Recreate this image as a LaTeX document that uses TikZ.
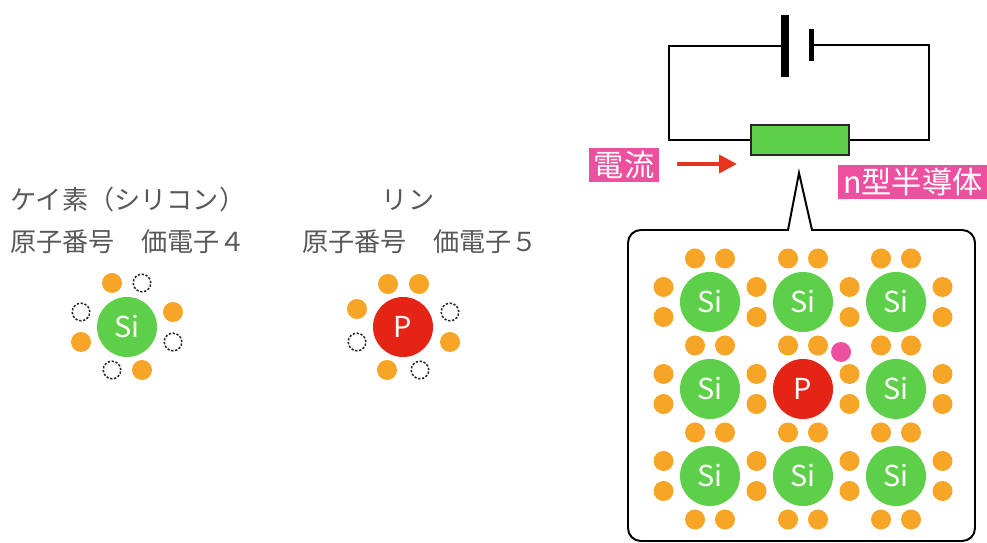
\documentclass[tikz,border=0pt]{standalone}
\usepackage{fontspec}
\setmainfont{Noto Sans CJK JP}
\usetikzlibrary{arrows.meta}

\definecolor{sigreen}{RGB}{94,207,72}
\definecolor{pred}{RGB}{228,36,20}
\definecolor{elorange}{RGB}{247,165,38}
\definecolor{tagpink}{RGB}{238,80,160}
\definecolor{txtgray}{RGB}{88,88,88}
\definecolor{arrred}{RGB}{230,52,30}

\tikzset{
  atom/.style={circle,minimum size=1.5cm,inner sep=0pt,text=white,font=\fontsize{20.5}{20.5}\selectfont},
  si/.style={atom,fill=sigreen},
  phos/.style={atom,fill=pred},
  elec/.style={circle,fill=elorange,minimum size=0.5cm,inner sep=0pt},
  hole/.style={circle,draw=black!85,dash pattern=on 1.6pt off 1.2pt,line width=1.1pt,minimum size=0.44cm,inner sep=0pt},
  free/.style={circle,fill=tagpink,minimum size=0.5cm,inner sep=0pt},
  caption/.style={text=txtgray,font=\fontsize{18.6}{22}\selectfont,inner sep=0pt},
  tag/.style={fill=tagpink,text=white,font=\fontsize{21.5}{21.5}\selectfont,inner xsep=3.5pt,inner ysep=2pt},
  wire/.style={line width=1.4pt,black},
  plate/.style={fill=black,inner sep=0pt}
}

\begin{document}
\begin{tikzpicture}[x=0.025cm,y=-0.025cm]
\useasboundingbox (0,0) rectangle (987,543);

% silicon
\node[caption,anchor=west] (sititle) at (10,200) {ケイ素（シリコン）};
\node[caption,anchor=west] (sinum) at (10,242) {原子番号　価電子４};
\node[si] (si) at (127,327) {Si};
\begin{scope}[shift={(127,327)}]
\node[elec] (s1) at (-15,-44) {};
\node[hole] (s2) at (15,-44) {};
\node[hole] (s3) at (-46,-15) {};
\node[elec] (s4) at (-46,15) {};
\node[elec] (s5) at (46,-15) {};
\node[hole] (s6) at (46,15) {};
\node[hole] (s7) at (-15,43) {};
\node[elec] (s8) at (15,43) {};
\end{scope}

% phosphorus
\node[caption] (ptitle) at (408,200) {リン};
\node[caption,anchor=west] (pnum) at (302,242) {原子番号　価電子５};
\node[phos] (p) at (403,327) {P};
\begin{scope}[shift={(403,327)}]
\node[elec] (p1) at (-15,-43) {};
\node[elec] (p2) at (16,-43) {};
\node[elec] (p3) at (-46,-18) {};
\node[hole] (p4) at (-46,15) {};
\node[hole] (p5) at (47,-15) {};
\node[elec] (p6) at (47,15) {};
\node[elec] (p7) at (-16,43) {};
\node[hole] (p8) at (17,43) {};
\end{scope}

% circuit
\node[plate,minimum width=0.2cm,minimum height=1.55cm] (bl) at (785,46) {};
\node[plate,minimum width=0.125cm,minimum height=0.78cm] (bs) at (811.5,45) {};
\node[draw=black!85,line width=1.2pt,fill=sigreen,minimum width=2.45cm,minimum height=0.75cm,inner sep=0pt] (res) at (800,140) {};
\coordinate (cl) at (669,140);
\coordinate (cr) at (929,140);
\draw[wire] (bl.west) -| (cl) -- (res.west);
\draw[wire] (bs.east) -| (cr) -- (res.east);

\node[tag] (cur) at (624,165) {電流};
\node[tag,anchor=west] (ntype) at (838,182) {n型半導体};
\coordinate (ia) at (677,164);
\coordinate (ib) at (737,164);
\draw[arrred,line width=2.8pt,-{Triangle[length=0.45cm,width=0.45cm]}] (ia) -- (ib);

% callout
\draw[line width=1.4pt,fill=white] (812,230) [rounded corners=0.32cm] -- (975,230) -- (975,541) -- (628,541) -- (628,230) [sharp corners] -- (788,230) -- (799,173) -- cycle;

% lattice
\foreach \c/\r in {0/0,1/0,2/0,0/1,2/1,0/2,1/2,2/2}
  \node[si] (a\c\r) at (710+93*\c,302+87*\r) {Si};
\node[phos] (a11) at (803,389) {P};
\foreach \k in {0,...,3}
  \foreach \r in {0,1,2} {
    \node[elec] (v\k\r a) at (663.5+93*\k,287+87*\r) {};
    \node[elec] (v\k\r b) at (663.5+93*\k,317+87*\r) {};
  }
\foreach \c in {0,1,2}
  \foreach \k in {0,...,3} {
    \node[elec] (h\c\k a) at (695+93*\c,258.5+87*\k) {};
    \node[elec] (h\c\k b) at (725+93*\c,258.5+87*\k) {};
  }
\node[free] (fe) at (841,352) {};
\end{tikzpicture}
\end{document}
